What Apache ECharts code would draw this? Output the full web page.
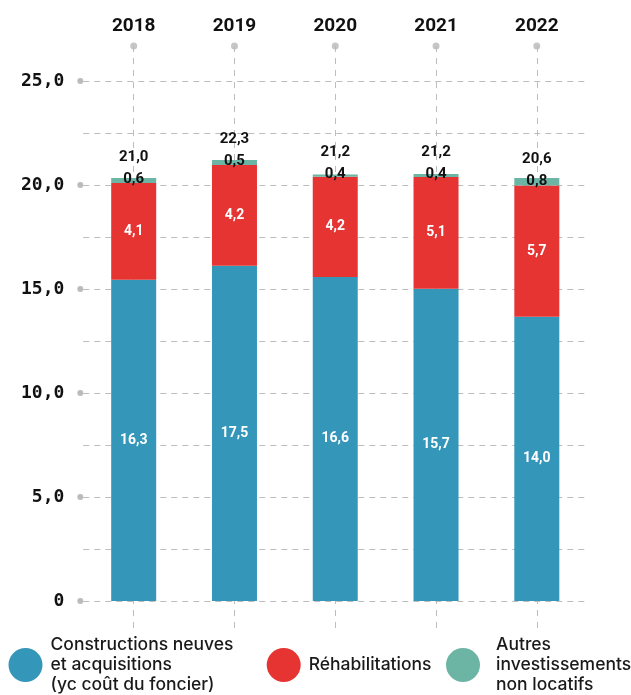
<!DOCTYPE html>
<html><head><meta charset="utf-8">
<script src="https://cdn.jsdelivr.net/npm/echarts@6/dist/echarts.min.js"></script>
<style>html,body{margin:0;padding:0;background:#fff}#c{width:631px;height:695px}</style>
</head><body><div id="c"></div>
<script>
const years = ['2018', '2019', '2020', '2021', '2022'];

// Segment heights as drawn in the reference (Md€)
const constructionsHeights = [15.45, 16.12, 15.58, 15.01, 13.67];
const rehabHeights = [4.65, 4.84, 4.82, 5.37, 6.30];
const autresHeights = [0.24, 0.24, 0.10, 0.15, 0.37];

// Values printed on the bars
const constructionsLabels = ['16,3', '17,5', '16,6', '15,7', '14,0'];
const rehabLabels = ['4,1', '4,2', '4,2', '5,1', '5,7'];
const autresLabels = ['0,6', '0,5', '0,4', '0,4', '0,8'];
const totalLabels = ['21,0', '22,3', '21,2', '21,2', '20,6'];

// Y axis tick labels
const yMajorTicks = [0, 5, 10, 15, 20, 25];
const yTickLabels = ['0', '5,0', '10,0', '15,0', '20,0', '25,0'];

const seriesNames = [
  'Constructions neuves et acquisitions (yc coût du foncier)',
  'Réhabilitations',
  'Autres investissements non locatifs'
];
const legendTexts = [
  'Constructions neuves\net acquisitions\n(yc coût du foncier)',
  'Réhabilitations',
  'Autres\ninvestissements\nnon locatifs'
];
const colors = ['#3497ba', '#e63433', '#6cb4a4'];

const gridLeft = 83.3, gridRight = 43.8;
const band = (631 - gridLeft - gridRight) / years.length;

const legendText = (padLeft) => ({ fontFamily: 'Inter', fontWeight: 500, fontSize: 17.5, lineHeight: 20, color: '#1a1a1a', padding: [0, 0, 0, padLeft] });
const dash = { color: '#bdbdbd', width: 1, type: [6, 5] };

const chart = echarts.init(document.getElementById('c'), null, { renderer: 'canvas' });
chart.setOption({
  animation: false,
  backgroundColor: '#fff',
  color: colors,
  grid: [
    { left: gridLeft, right: gridRight, top: 81, bottom: 94 },
    { left: gridLeft + band / 2, right: gridRight + band / 2, top: 46, bottom: 65 }
  ],
  xAxis: [
    { type: 'category', data: years, gridIndex: 0, show: false },
    {
      type: 'category', data: years, gridIndex: 1, boundaryGap: false, position: 'top',
      axisLine: { show: false }, axisTick: { show: false },
      axisLabel: { interval: 0, margin: 10, fontFamily: 'Roboto', fontWeight: 'bold', fontSize: 19, color: '#111' },
      splitLine: { show: true, interval: 0, lineStyle: { color: '#bdbdbd', width: 1, type: [6, 6] } }
    }
  ],
  yAxis: [
    {
      type: 'value', gridIndex: 0, min: 0, max: 25, interval: 2.5,
      axisLine: { show: false }, axisTick: { show: false },
      splitLine: { show: true, lineStyle: dash },
      axisLabel: {
        margin: 0,
        formatter: v => {
          const i = yMajorTicks.indexOf(v);
          if (i < 0) return '';
          return '{v|' + yTickLabels[i] + '}{s|}{d|}';
        },
        rich: {
          v: { fontFamily: 'DejaVu Sans Mono', fontWeight: 'bold', fontSize: 18, color: '#111', verticalAlign: 'middle' },
          s: { width: 13 },
          d: { width: 6, height: 6, borderRadius: 3, backgroundColor: '#bbbbbb', verticalAlign: 'middle' }
        }
      }
    },
    { type: 'value', gridIndex: 1, min: 0, max: 1, show: false }
  ],
  legend: [
    { data: [seriesNames[0]], left: 8.5, top: 635, padding: 0, icon: 'circle', itemWidth: 34, itemHeight: 34,
      formatter: () => legendTexts[0], textStyle: legendText(3), selectedMode: false },
    { data: [seriesNames[1]], left: 266.7, top: 648, padding: 0, icon: 'circle', itemWidth: 34, itemHeight: 34,
      formatter: () => legendTexts[1], textStyle: legendText(3), selectedMode: false },
    { data: [seriesNames[2]], left: 446, top: 635, padding: 0, icon: 'circle', itemWidth: 34, itemHeight: 34,
      formatter: () => legendTexts[2], textStyle: legendText(11), selectedMode: false }
  ],
  series: [
    {
      name: seriesNames[0], type: 'bar', stack: 'tot', barWidth: 45, data: constructionsHeights,
      label: { show: true, position: 'inside', color: '#fff', fontFamily: 'Roboto', fontWeight: 'bold', fontSize: 14,
        formatter: p => constructionsLabels[p.dataIndex] }
    },
    {
      name: seriesNames[1], type: 'bar', stack: 'tot', barWidth: 45, data: rehabHeights,
      label: { show: true, position: 'inside', color: '#fff', fontFamily: 'Roboto', fontWeight: 'bold', fontSize: 14,
        formatter: p => rehabLabels[p.dataIndex] }
    },
    {
      name: seriesNames[2], type: 'bar', stack: 'tot', barWidth: 45, data: autresHeights,
      label: {
        show: true, position: 'inside', offset: [0, -12],
        formatter: p => '{t|' + totalLabels[p.dataIndex] + '}\n{v|' + autresLabels[p.dataIndex] + '}',
        rich: {
          t: { fontFamily: 'Roboto', fontWeight: 'bold', fontSize: 15, color: '#111', lineHeight: 22 },
          v: { fontFamily: 'Roboto', fontWeight: 'bold', fontSize: 15, color: '#111', lineHeight: 22 }
        }
      }
    },
    {
      type: 'scatter', xAxisIndex: 1, yAxisIndex: 1, silent: true, clip: false,
      symbol: 'circle', symbolSize: 7, itemStyle: { color: '#b8b8b8' },
      data: years.map(y => [y, 1])
    }
  ]
});
</script>
</body></html>
